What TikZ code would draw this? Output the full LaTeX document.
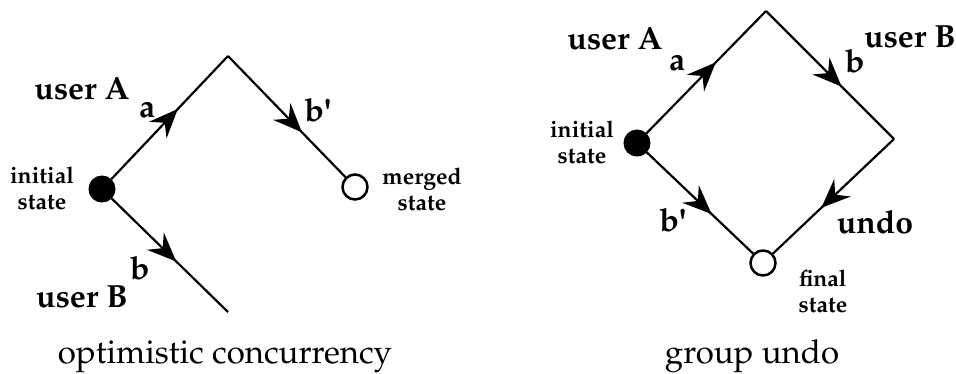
\documentclass[tikz,border=0pt]{standalone}
\usepackage[T1]{fontenc}
\usepackage{mathpazo}
\usepackage{textcomp}
\usetikzlibrary{arrows.meta,decorations.markings}
\tikzset{
  edge/.style={line width=2.2pt},
  midarrow/.style={decoration={markings,
      mark=at position #1 with {\arrow{Stealth[length=29pt,width=24pt,inset=10pt]}}},
      postaction={decorate}},
  startstate/.style={circle,fill=black,draw=black,line width=1pt,minimum size=26pt,inner sep=0pt},
  endstate/.style={circle,fill=white,draw=black,line width=2.5pt,minimum size=25pt,inner sep=0pt},
  biglabel/.style={font=\fontsize{32}{34}\selectfont\bfseries,inner sep=0pt},
  smalllabel/.style={font=\fontsize{23}{26}\selectfont\bfseries,align=center,inner sep=0pt},
  caption/.style={font=\fontsize{33}{36}\selectfont,inner sep=0pt,anchor=base},
}
\newcommand{\tick}{\textquotesingle}
\begin{document}
\begin{tikzpicture}[x=1pt,y=-1pt]
\useasboundingbox (0,0) rectangle (956,373);

% optimistic concurrency
\node[startstate] (oinit) at (102,189) {};
\coordinate (otop) at (228,56);
\node[endstate] (omerge) at (355,187) {};
\coordinate (obend) at (228,312);
\draw[edge,midarrow=0.57] (oinit) -- (otop);
\draw[edge,midarrow=0.63] (otop) -- (omerge);
\draw[edge,midarrow=0.555] (oinit) -- (obend);

\node[biglabel] (ouserA) at (82,88) {user A};
\node[biglabel] (oa) at (147,110) {a};
\node[biglabel] (obp) at (318,110) {b\tick};
\node[biglabel] (ob) at (140,268) {b};
\node[biglabel] (ouserB) at (82,297) {user B};
\node[smalllabel] (oinitlbl) at (42,188) {initial\\state};
\node[smalllabel] (omergelbl) at (422,189) {merged\\state};
\node[caption] (ocap) at (225,363) {optimistic concurrency};

% group undo
\node[startstate] (ginit) at (637,143) {};
\coordinate (gtop) at (766,11);
\coordinate (gright) at (894,139);
\node[endstate] (gfinal) at (763,263) {};
\draw[edge,midarrow=0.58] (ginit) -- (gtop);
\draw[edge,midarrow=0.59] (gtop) -- (gright);
\draw[edge,midarrow=0.6] (gright) -- (gfinal);
\draw[edge,midarrow=0.61] (ginit) -- (gfinal);

\node[biglabel] (guserA) at (615,38) {user A};
\node[biglabel] (ga) at (677,63) {a};
\node[biglabel] (gb) at (855,61) {b};
\node[biglabel] (guserB) at (910,37) {user B};
\node[biglabel] (gbp) at (673,220) {b\tick};
\node[biglabel] (gundo) at (875,222) {undo};
\node[smalllabel] (ginitlbl) at (582,142) {initial\\state};
\node[smalllabel] (gfinallbl) at (823,291) {final\\state};
\node[caption] (gcap) at (752,363) {group undo};
\end{tikzpicture}
\end{document}
